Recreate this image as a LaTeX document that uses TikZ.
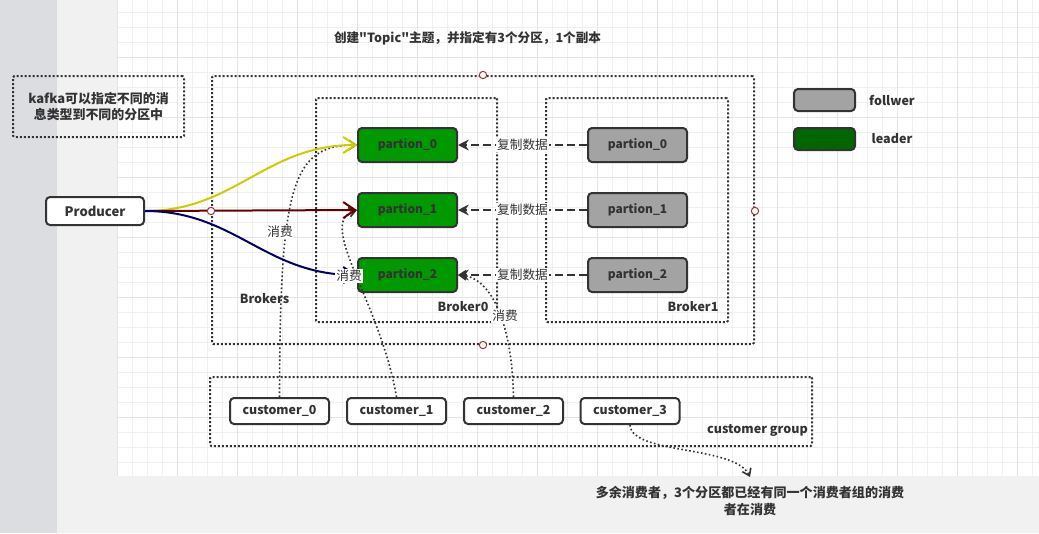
\documentclass[tikz,border=0pt]{standalone}
\usepackage{fontspec}
\setmainfont{Noto Sans CJK SC}[Ligatures=TeXOff]
\usetikzlibrary{arrows.meta}
\definecolor{txt}{HTML}{333333}
\definecolor{leftg}{HTML}{DCDDE0}
\definecolor{midg}{HTML}{F1F1F1}
\definecolor{gridm}{HTML}{F0F0F0}
\definecolor{gridM}{HTML}{E4E4E4}
\definecolor{leadg}{HTML}{009900}
\definecolor{leadl}{HTML}{006600}
\definecolor{follg}{HTML}{A3A3A3}
\definecolor{yel}{HTML}{CCCC00}
\definecolor{dred}{HTML}{660000}
\definecolor{navy}{HTML}{000066}
\definecolor{portc}{HTML}{993333}
\tikzset{
  fnt/.style={font=\fontsize{9.5}{12}\selectfont},
  bfnt/.style={font=\bfseries\fontsize{9}{11.5}\selectfont},
  dotbox/.style={draw=txt, line width=1.5pt, dash pattern=on 1.5pt off 1.5pt, rounded corners=1pt, inner sep=0pt},
  lead/.style={draw=txt, fill=leadg, line width=1.5pt, rounded corners=3pt, minimum width=74.25pt, minimum height=25.5pt, inner sep=0pt, bfnt},
  foll/.style={lead, fill=follg},
  cust/.style={draw=txt, fill=white, line width=1.5pt, rounded corners=3pt, minimum width=74.25pt, minimum height=19.5pt, inner sep=0pt, font=\bfseries\fontsize{9.3}{11.5}\selectfont},
  lbl/.style={font=\bfseries\fontsize{9.4}{11.5}\selectfont, inner sep=0pt},
  edgelbl/.style={fill=white, inner sep=0.8pt, fnt},
  cons/.style={draw=txt, line width=1.2pt, dash pattern=on 1.2pt off 1.8pt, -{Straight Barb[length=5pt,width=7pt]}},
  repl/.style={draw=txt, line width=1.5pt, dash pattern=on 6pt off 3pt, -{Stealth[length=8pt,width=8pt]}},
  prodarr/.style={line width=1.5pt, -{Straight Barb[length=9pt,width=12pt]}},
  port/.style={circle, draw=portc, fill=white, line width=0.75pt, minimum size=5.5pt, inner sep=0pt},
}
\begin{document}
\begin{tikzpicture}[x=0.75pt,y=-0.75pt, text=txt]
\useasboundingbox (0,0) rectangle (1039,533);
% background
\fill[midg] (0,0) rectangle (1039,533);
\fill[leftg] (0,0) rectangle (57,533);
\fill[white] (117,0) rectangle (1039,476);
\foreach \x in {117,132,...,1039} \draw[gridm, line width=0.75pt] (\x,0) -- (\x,476);
\foreach \y in {12,27,...,476} \draw[gridm, line width=0.75pt] (117,\y) -- (1039,\y);
\foreach \x in {117,177,...,1039} \draw[gridM, line width=0.75pt] (\x,0) -- (\x,476);
\foreach \y in {57,117,...,476} \draw[gridM, line width=0.75pt] (117,\y) -- (1039,\y);

% title
\node[font=\bfseries\fontsize{9.45}{12}\selectfont] (title) at (467.5,38) {创建"Topic"主题，并指定有3个分区，1个副本};

% note
\node[dotbox, minimum width=128.25pt, minimum height=45.75pt, align=center, font=\bfseries\fontsize{9.7}{12.2}\selectfont] (note) at (98.5,106.5) {kafka可以指定不同的消\\息类型到不同的分区中};

% containers
\node[dotbox, minimum width=406.5pt, minimum height=201pt] (brokers) at (483,210) {};
\node[dotbox, minimum width=135.75pt, minimum height=168pt] (b0) at (406.5,210) {};
\node[dotbox, minimum width=136.5pt, minimum height=168pt] (b1) at (637,210) {};
\node[dotbox, minimum width=451.5pt, minimum height=51.75pt] (cg) at (511,411.5) {};
\node[lbl] (brokerslbl) at (264.5,299) {Brokers};
\node[lbl] (b0lbl) at (463,307) {Broker0};
\node[lbl] (b1lbl) at (693,307) {Broker1};
\node[lbl, anchor=east] (cglbl) at (808,430) {customer group};

% partitions
\node[lead] (p0) at (407.5,145) {partion\_0};
\node[lead] (p1) at (407.5,210) {partion\_1};
\node[lead] (p2) at (407.5,275) {partion\_2};
\node[foll] (f0) at (637.5,145) {partion\_0};
\node[foll] (f1) at (637.5,210) {partion\_1};
\node[foll] (f2) at (637.5,275) {partion\_2};

% legend
\node[draw=txt, fill=follg, line width=1.5pt, rounded corners=3pt, minimum width=45.75pt, minimum height=16.5pt, inner sep=0pt] (lg1) at (824.5,100) {};
\node[draw=txt, fill=leadl, line width=1.5pt, rounded corners=3pt, minimum width=45.75pt, minimum height=16.5pt, inner sep=0pt] (lg2) at (824.5,139) {};
\node[lbl] (lg1t) at (892,100) {follwer};
\node[lbl] (lg2t) at (892,139) {leader};

% producer
\node[draw=txt, fill=white, line width=1.5pt, rounded corners=3pt, minimum width=73.5pt, minimum height=21pt, inner sep=0pt, font=\bfseries\fontsize{9.8}{12}\selectfont] (prod) at (95,211) {Producer};

% customers
\node[cust] (c0) at (279.5,411) {customer\_0};
\node[cust] (c1) at (396.5,411) {customer\_1};
\node[cust] (c2) at (513.5,411) {customer\_2};
\node[cust] (c3) at (630,411) {customer\_3};

% annotation
\node[align=center, font=\bfseries\fontsize{9.8}{12.4}\selectfont] (ann) at (750,501) {多余消费者，3个分区都已经有同一个消费者组的消费\\者在消费};
\coordinate (annin) at (750,477);

% replication
\draw[repl] (f0.west) -- node[edgelbl] {复制数据} (p0.east);
\draw[repl] (f1.west) -- node[edgelbl] {复制数据} (p1.east);
\draw[repl] (f2.west) -- node[edgelbl] {复制数据} (p2.east);

% consumers
\draw[cons] (c0.north) .. controls (280,185) and (292,145) .. (p0.west);
\draw[cons] (c1.north) .. controls (380,300) and (315,222) .. (p1.west);
\draw[cons] (c2.north) .. controls (512,320) and (490,276) .. (p2.east);
\draw[cons] (c3.south) .. controls (632,455) and (735,445) .. (annin);

% producer arrows
\draw[prodarr, yel] (prod.east) .. controls (235,211) and (265,145) .. (p0.west);
\draw[prodarr, dred] (prod.east) -- (p1.west);
\draw[prodarr, navy] (prod.east) .. controls (235,211) and (265,275) .. (p2.west);

% ports
\node[port] (pn) at (brokers.north) {};
\node[port] (pw) at (brokers.west |- prod.east) {};
\node[port] (pe) at (brokers.east |- prod.east) {};
\node[port] (ps) at (brokers.south) {};

% edge labels
\node[edgelbl] (l0) at (280,232) {消费};
\node[edgelbl] (l1) at (349,276) {消费};
\node[edgelbl] (l2) at (505,316) {消费};
\end{tikzpicture}
\end{document}
